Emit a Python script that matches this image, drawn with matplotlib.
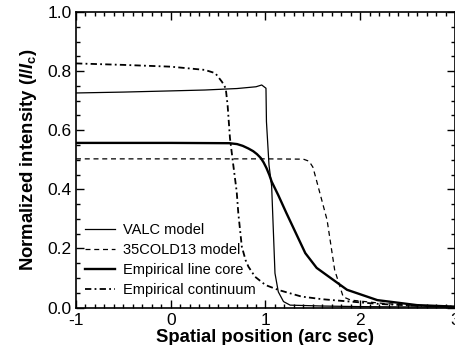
import matplotlib
matplotlib.use("Agg")
import matplotlib.pyplot as plt
from matplotlib.ticker import MultipleLocator

plt.rcParams['font.family'] = ['Liberation Sans', 'DejaVu Sans']
plt.rcParams['mathtext.fontset'] = 'custom'
plt.rcParams['mathtext.it'] = 'Liberation Sans:bold:italic'
plt.rcParams['mathtext.rm'] = 'Liberation Sans:bold'
plt.rcParams['mathtext.bf'] = 'Liberation Sans:bold'

# ---- data ----
valc_x = [-1.0, -0.5, 0.0, 0.36, 0.7, 0.9, 0.96, 1.005, 1.01, 1.037, 1.065, 1.10, 1.135, 1.19, 1.26, 1.6, 2.0, 2.5, 3.0]
valc_y = [0.726, 0.729, 0.733, 0.736, 0.741, 0.747, 0.753, 0.742, 0.629, 0.482, 0.41, 0.116, 0.053, 0.02, 0.008, 0.005, 0.003, 0.002, 0.001]

cold_x = [-1.0, 0.0, 1.0, 1.40, 1.46, 1.50, 1.53, 1.58, 1.65, 1.73, 1.82, 1.9, 2.2, 2.6, 3.0]
cold_y = [0.503, 0.503, 0.503, 0.502, 0.495, 0.475, 0.44, 0.38, 0.296, 0.127, 0.036, 0.025, 0.015, 0.006, 0.002]

core_x = [-1.0, 0.0, 0.62, 0.70, 0.76, 0.82, 0.87, 0.91, 0.95, 0.98, 1.01, 1.04, 1.065, 1.135, 1.22, 1.42, 1.54, 1.86, 2.18, 2.6, 3.0]
core_y = [0.557, 0.557, 0.556, 0.553, 0.547, 0.538, 0.529, 0.519, 0.506, 0.491, 0.472, 0.449, 0.426, 0.38, 0.32, 0.184, 0.134, 0.06, 0.025, 0.008, 0.003]

cont_x = [-1.0, -0.5, 0.0, 0.36, 0.47, 0.54, 0.58, 0.60, 0.625, 0.66, 0.696, 0.713, 0.75, 0.79, 0.82, 0.89, 1.0, 1.14, 1.38, 1.6, 1.82, 2.2, 2.6, 3.0]
cont_y = [0.826, 0.821, 0.815, 0.804, 0.793, 0.764, 0.742, 0.685, 0.573, 0.482, 0.392, 0.319, 0.206, 0.16, 0.138, 0.104, 0.076, 0.059, 0.037, 0.028, 0.022, 0.012, 0.006, 0.003]

labels = ["VALC model", "35COLD13 model", "Empirical line core", "Empirical continuum"]
xticks = [-1, 0, 1, 2, 3]
yticks = [0.0, 0.2, 0.4, 0.6, 0.8, 1.0]

fig = plt.figure(figsize=(4.56, 3.45), dpi=100)
ax = fig.add_axes([76/456, 1 - 307.5/345, 379/456, 295.5/345])

ax.plot(valc_x, valc_y, color='black', lw=0.9, label=labels[0])
l2, = ax.plot(cold_x, cold_y, color='black', lw=0.9, label=labels[1])
l2.set_dashes((4, 3))
ax.plot(core_x, core_y, color='black', lw=1.7, label=labels[2])
l4, = ax.plot(cont_x, cont_y, color='black', lw=1.3, label=labels[3])
l4.set_dashes((3.5, 1.8, 1.0, 1.8))

ax.set_xlim(-1, 3)
ax.set_ylim(0, 1)
ax.set_xticks(xticks)
ax.set_yticks(yticks)
ax.set_xticklabels([f"{t:d}" for t in xticks])
ax.set_yticklabels([f"{t:.1f}" for t in yticks])
ax.xaxis.set_minor_locator(MultipleLocator(0.1))
ax.yaxis.set_minor_locator(MultipleLocator(0.05))
ax.tick_params(which='both', direction='in', top=True, right=True, width=1.0, labelsize=12.5)
ax.tick_params(which='major', length=6)
ax.tick_params(which='minor', length=3)
ax.tick_params(axis='y', pad=3)
ax.tick_params(axis='x', pad=4)
for s in ax.spines.values():
    s.set_linewidth(1.2)

ax.set_xlabel("Spatial position (arc sec)", fontsize=13.3, fontweight='bold', labelpad=1)
ax.set_ylabel(r"Normalized intensity ($I/I_{\mathrm{c}}$)", fontsize=13.3, fontweight='bold', labelpad=6)

leg = ax.legend(loc='lower left', bbox_to_anchor=(0.024, 0.034), borderaxespad=0, borderpad=0,
                frameon=False, fontsize=10.5, handlelength=2.05, handletextpad=0.55, labelspacing=0.42)

fig.savefig("out.png", dpi=100)
